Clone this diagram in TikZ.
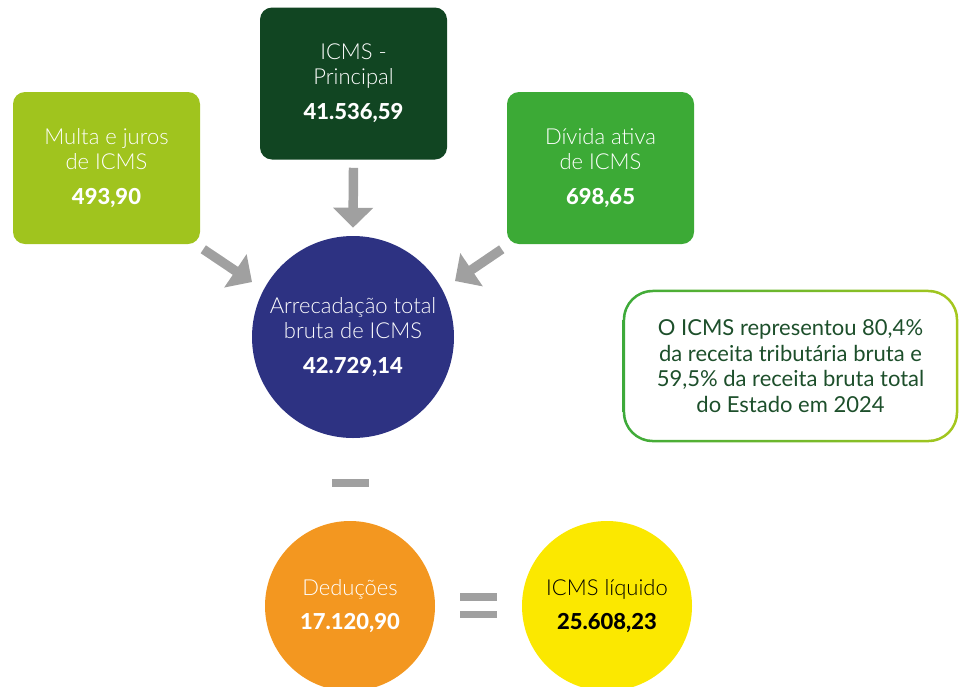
\documentclass[tikz,border=0pt]{standalone}
\usepackage{fontspec}
\setmainfont{Lato}
\newfontfamily\lightfont{Lato Light}
\newfontfamily\heavyfont{Lato Heavy}
\usetikzlibrary{arrows.meta,calc}
\definecolor{limegreen}{HTML}{A0C41E}
\definecolor{darkgreen}{HTML}{114522}
\definecolor{midgreen}{HTML}{3CAA36}
\definecolor{navy}{HTML}{2D3282}
\definecolor{orangec}{HTML}{F39720}
\definecolor{yellowc}{HTML}{FBE800}
\definecolor{arrowgrey}{HTML}{A0A0A0}
\definecolor{calltext}{HTML}{1D4F2B}
\definecolor{gradleft}{HTML}{3DAA3A}
\definecolor{gradright}{HTML}{A6C71E}
\newcommand\ttlfont{\lightfont\fontsize{16.5}{18.75}\selectfont}
\newcommand\valtxt[1]{{\heavyfont #1}}
\begin{document}
\begin{tikzpicture}[x=0.75pt,y=-0.75pt,
  box/.style={rectangle, rounded corners=9pt, minimum width=140.25pt, minimum height=114pt, inner sep=0pt, align=center, text=white, font=\ttlfont},
  circ/.style={circle, inner sep=0pt, align=center, text=white, font=\ttlfont},
  bigarrow/.style={draw=arrowgrey, line width=7.1pt, -{Triangle[width=29.25pt,length=15pt]}},
  opbar/.style={fill=arrowgrey}
]
\useasboundingbox (0,0) rectangle (960,686);
\clip (0,0) rectangle (960,686);

\node[box, fill=limegreen] (multa) at (106.5,168) {Multa e juros\\de ICMS\\[7.5pt]\valtxt{493,90}};
\node[box, fill=darkgreen] (principal) at (353.5,83.5) {ICMS -\\Principal\\[7.5pt]\valtxt{41.536,59}};
\node[box, fill=midgreen] (divida) at (600.5,168) {Dívida ativa\\de ICMS\\[7.5pt]\valtxt{698,65}};

\node[circ, fill=navy, minimum size=151.5pt] (bruta) at (353,337) {Arrecadação total\\bruta de ICMS\\[7.5pt]\valtxt{42.729,14}};

\draw[bigarrow] ($(principal.south)+(0,8)$) -- ($(bruta.north)+(0,-8)$);
\draw[bigarrow] ($(multa.south east)+(3,5)$) -- ($(bruta.center)+(-101,-55)$);
\draw[bigarrow] ($(divida.south west)+(-5,5)$) -- ($(bruta.center)+(102,-56)$);

\node[circ, fill=orangec, minimum size=127.5pt] (ded) at (350,606) {Deduções\\[6.75pt]\valtxt{17.120,90}};
\node[circ, fill=yellowc, minimum size=127.5pt, text=black] (liq) at (607,606) {ICMS líquido\\[6.75pt]\valtxt{25.608,23}};

\fill[opbar] (332,479) rectangle (369,487);
\fill[opbar] (460,593) rectangle (497,601);
\fill[opbar] (460,611) rectangle (497,618);

\node[rectangle, minimum width=251.25pt, minimum height=114pt, inner sep=0pt, align=center, text=calltext, font=\fontsize{16.5}{19.1}\selectfont] (callout) at (790.5,366) {O ICMS representou 80,4\%\\da receita tributária bruta e\\59,5\% da receita bruta total\\do Estado em 2024};
\shade[left color=gradleft, right color=gradright, even odd rule]
  [rounded corners=22.5pt] (callout.north west) rectangle (callout.south east)
  [rounded corners=20.6pt] ($(callout.north west)+(2.5,2.5)$) rectangle ($(callout.south east)+(-2.5,-2.5)$);
\end{tikzpicture}
\end{document}
